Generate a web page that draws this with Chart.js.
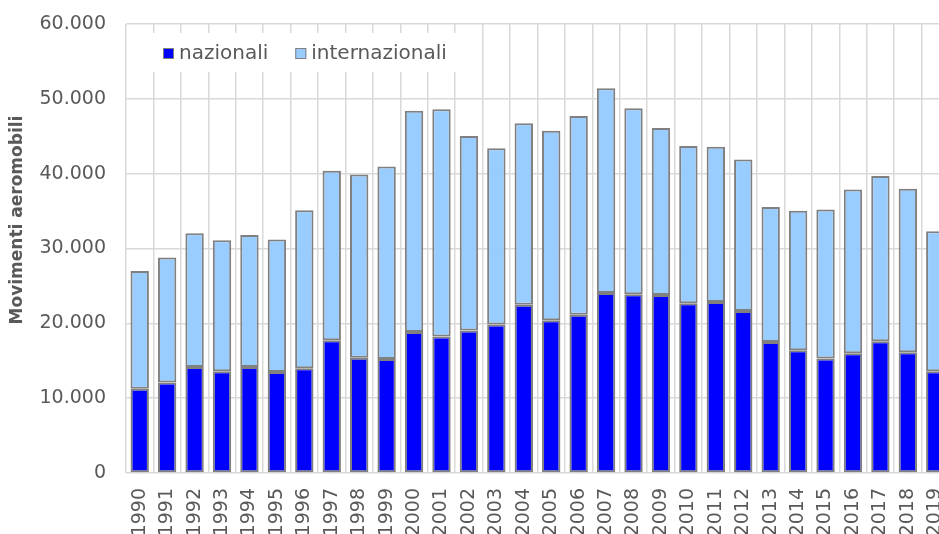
<!DOCTYPE html>
<html lang="it">
<head>
<meta charset="UTF-8">
<title>Movimenti aeromobili</title>
<script src="https://cdn.jsdelivr.net/npm/chart.js"></script>
<style>
  html, body {
    margin: 0;
    padding: 0;
    overflow: hidden;
    background: #fff;
  }
  .chart-wrapper {
    width: 952px;
    height: 534px;
  }
</style>
</head>
<body>
<div class="chart-wrapper">
  <canvas id="movChart"></canvas>
</div>
<script>
  const anni = ['1990', '1991', '1992', '1993', '1994', '1995', '1996', '1997', '1998', '1999',
    '2000', '2001', '2002', '2003', '2004', '2005', '2006', '2007', '2008', '2009',
    '2010', '2011', '2012', '2013', '2014', '2015', '2016', '2017', '2018', '2019'];
  const nazionali = [11250, 12100, 14150, 13600, 14150, 13500, 14000, 17750, 15400, 15250,
    18850, 18250, 19050, 19850, 22500, 20400, 21150, 24050, 23900, 23800,
    22700, 22850, 21650, 17500, 16400, 15300, 16000, 17600, 16150, 13600];
  const internazionali = [15750, 16700, 17900, 17500, 17650, 17700, 21100, 22650, 24500, 25700,
    29550, 30350, 26000, 23550, 24250, 25350, 26550, 27350, 24850, 22300,
    21000, 20750, 20250, 18050, 18650, 19900, 21900, 22100, 21850, 18700];
  const yMax = 60000;
  const yStep = 10000;
  const yTitle = 'Movimenti aeromobili';

  const FONT = 'DejaVu Sans';
  const TEXT = '#595959';
  const GRID = '#d9d9d9';

  // thousands with a dot, Italian style
  const fmt = v => String(v).replace(/\B(?=(\d{3})+(?!\d))/g, '.');

  // legend inside the plot on a white box, plus the axis title
  const inlineLegend = {
    id: 'inlineLegend',
    afterDatasetsDraw(chart) {
      const c = chart.ctx;
      c.save();
      c.fillStyle = '#fff';
      c.fillRect(150, 33, 320, 39);
      c.font = '20px "' + FONT + '"';
      c.textBaseline = 'middle';
      let x = 163;
      chart.data.datasets.forEach(ds => {
        c.fillStyle = ds.backgroundColor;
        c.fillRect(x, 48, 11, 11);
        c.strokeStyle = '#808080';
        c.lineWidth = 1;
        c.strokeRect(x + 0.5, 48.5, 10, 10);
        c.fillStyle = TEXT;
        c.fillText(ds.label, x + 16, 54);
        x += 16 + c.measureText(ds.label).width + 27;
      });

      // y axis title, sitting a bit above the middle of the axis
      c.translate(18, 220);
      c.rotate(-Math.PI / 2);
      c.textAlign = 'center';
      c.font = 'bold 17px "' + FONT + '"';
      c.fillText(yTitle, 0, 0);
      c.restore();
    }
  };

  new Chart(document.getElementById('movChart'), {
    type: 'bar',
    data: {
      labels: anni,
      datasets: [
        {
          label: 'nazionali',
          data: nazionali,
          backgroundColor: '#0000ff',
          borderColor: '#808080',
          borderWidth: 2,
          borderSkipped: false
        },
        {
          label: 'internazionali',
          data: internazionali,
          backgroundColor: '#99ccff',
          borderColor: '#808080',
          borderWidth: 2,
          borderSkipped: false
        }
      ]
    },
    options: {
      responsive: true,
      maintainAspectRatio: false,
      animation: false,
      barPercentage: 0.67,
      categoryPercentage: 1,
      layout: { padding: { top: 24, right: 3, left: 0, bottom: 0 } },
      scales: {
        x: {
          stacked: true,
          grid: { color: GRID, lineWidth: 1.5, drawTicks: false, offset: true },
          border: { display: false },
          ticks: {
            minRotation: 90,
            maxRotation: 90,
            autoSkip: false,
            padding: 15,
            color: TEXT,
            font: { family: FONT, size: 19 }
          },
          afterFit(scale) {
            scale.height = 61;
            scale.paddingLeft = 0;
            scale.paddingRight = 0;
          }
        },
        y: {
          stacked: true,
          min: 0,
          max: yMax,
          grid: { color: GRID, lineWidth: 1.5, drawTicks: false },
          border: { display: false },
          ticks: {
            stepSize: yStep,
            padding: 20,
            color: TEXT,
            font: { family: FONT, size: 19 },
            callback: v => fmt(v)
          },
          afterFit(scale) {
            scale.width = 126;
            scale.paddingTop = 0;
            scale.paddingBottom = 0;
          }
        }
      },
      plugins: {
        legend: { display: false },
        tooltip: { enabled: false }
      }
    },
    plugins: [inlineLegend]
  });
</script>
</body>
</html>
